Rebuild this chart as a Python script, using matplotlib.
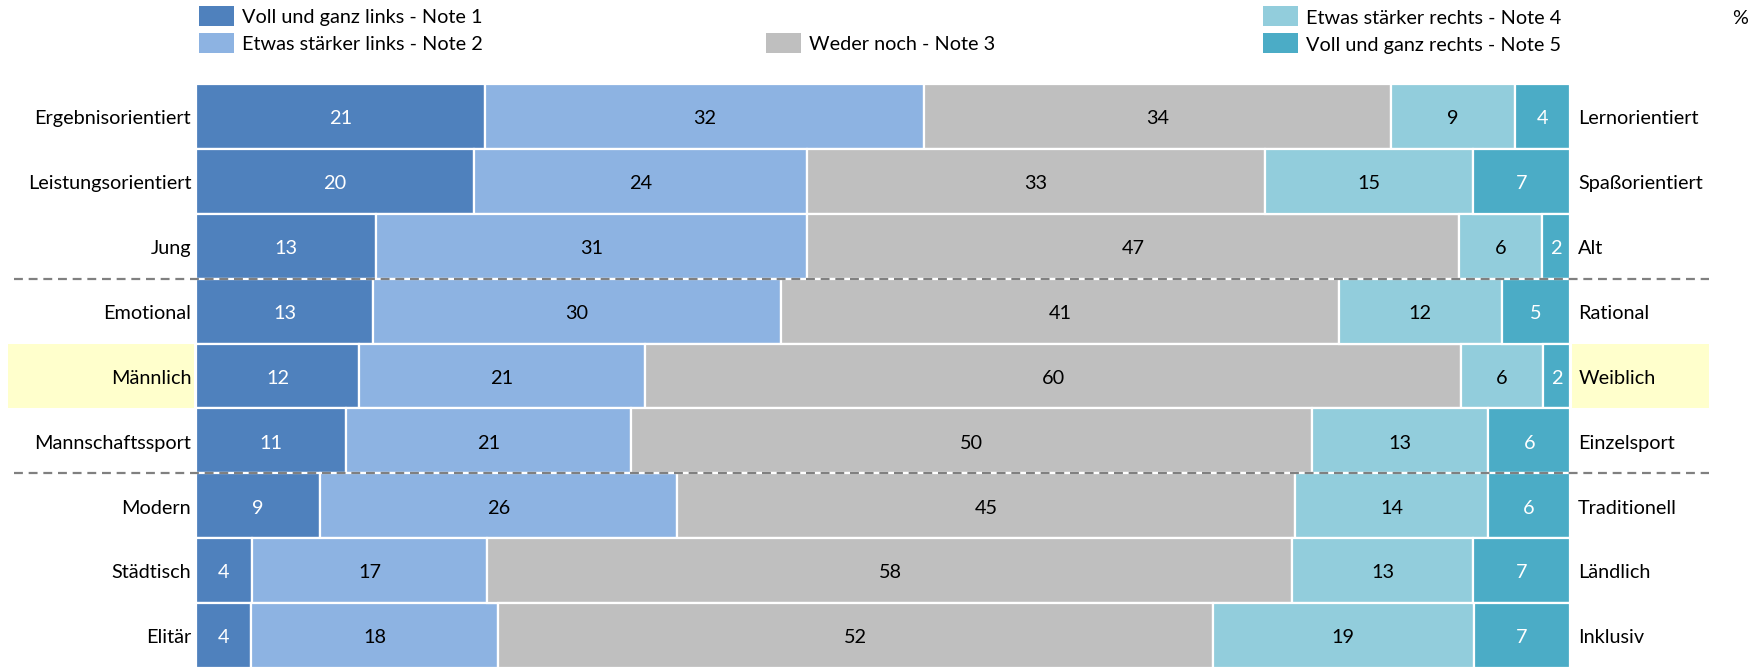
import matplotlib
matplotlib.use("Agg")
import matplotlib.pyplot as plt
import matplotlib.transforms as mtransforms
from matplotlib.patches import Rectangle
import numpy as np

plt.rcParams["font.family"] = ["Lato", "DejaVu Sans"]

W, H = 1761, 668

left_labels = ["Ergebnisorientiert", "Leistungsorientiert", "Jung", "Emotional",
               "Männlich", "Mannschaftssport", "Modern", "Städtisch", "Elitär"]
right_labels = ["Lernorientiert", "Spaßorientiert", "Alt", "Rational",
                "Weiblich", "Einzelsport", "Traditionell", "Ländlich", "Inklusiv"]

note1 = [21, 20, 13, 13, 12, 11, 9, 4, 4]
note2 = [32, 24, 31, 30, 21, 21, 26, 17, 18]
note3 = [34, 33, 47, 41, 60, 50, 45, 58, 52]
note4 = [9, 15, 6, 12, 6, 13, 14, 13, 19]
note5 = [4, 7, 2, 5, 2, 6, 6, 7, 7]

series_names = ["Voll und ganz links - Note 1", "Etwas stärker links - Note 2",
                "Weder noch - Note 3", "Etwas stärker rechts - Note 4",
                "Voll und ganz rechts - Note 5"]
colors = ["#4F81BD", "#8DB3E2", "#BFBFBF", "#92CDDC", "#4BACC6"]
text_colors = ["white", "black", "black", "black", "white"]

highlight_row = 4
separators_after = [2, 5]

FS = 14.3
DY = 0.035  # text sits a touch below the bar centre, like the original


def px_x(x):
    return x / W


def px_y(y):
    return 1 - y / H


def main():
    fig = plt.figure(figsize=(W / 100, H / 100), dpi=100)
    ax = fig.add_axes([px_x(196), 0, px_x(1570) - px_x(196), px_y(84)])

    values = np.array([note1, note2, note3, note4, note5], dtype=float)
    shares = values / values.sum(axis=0) * 100
    y = np.arange(len(left_labels))

    left = np.zeros(len(y))
    for i in range(len(series_names)):
        ax.barh(y, shares[i], left=left, height=1.0, color=colors[i],
                edgecolor="white", linewidth=1.6, zorder=2)
        for j in range(len(y)):
            ax.text(left[j] + shares[i][j] / 2, y[j] + DY, f"{int(values[i][j])}",
                    ha="center", va="center", fontsize=FS, color=text_colors[i], zorder=3)
        left += shares[i]

    ax.set_xlim(0, 100)
    ax.set_ylim(len(y) - 0.5, -0.5)
    ax.axis("off")

    # row labels on both sides
    for j in range(len(y)):
        ax.text(-0.35, y[j] + DY, left_labels[j], ha="right", va="center", fontsize=FS)
        ax.text(100.6, y[j] + DY, right_labels[j], ha="left", va="center", fontsize=FS)

    # highlighted row
    blend = mtransforms.blended_transform_factory(fig.transFigure, ax.transData)
    for x0, x1 in [(8, 194), (1572, 1709)]:
        ax.add_patch(Rectangle((px_x(x0), highlight_row - 0.5), px_x(x1) - px_x(x0), 1.0,
                               transform=blend, facecolor="#FFFFCC", edgecolor="none",
                               clip_on=False, zorder=0))

    # group separators
    for s in separators_after:
        ax.plot([px_x(14), px_x(1709)], [s + 0.5, s + 0.5], transform=blend,
                color="#808080", linewidth=1.6, linestyle=(0, (4, 2.6)),
                clip_on=False, zorder=4)

    # legend, laid out as in the original
    legend_slots = [(199, 16), (199, 43), (766, 43), (1263, 16), (1263, 43)]
    for (lx, ly), name, c in zip(legend_slots, series_names, colors):
        fig.patches.append(Rectangle((px_x(lx), px_y(ly + 10)), px_x(35), 20 / H,
                                     transform=fig.transFigure, facecolor=c,
                                     edgecolor="none"))
        fig.text(px_x(lx + 43), px_y(ly + 2), name, ha="left", va="center", fontsize=FS)

    fig.text(px_x(1740), px_y(18), "%", ha="center", va="center", fontsize=FS)

    fig.savefig("out.png", dpi=100)


if __name__ == "__main__":
    main()
